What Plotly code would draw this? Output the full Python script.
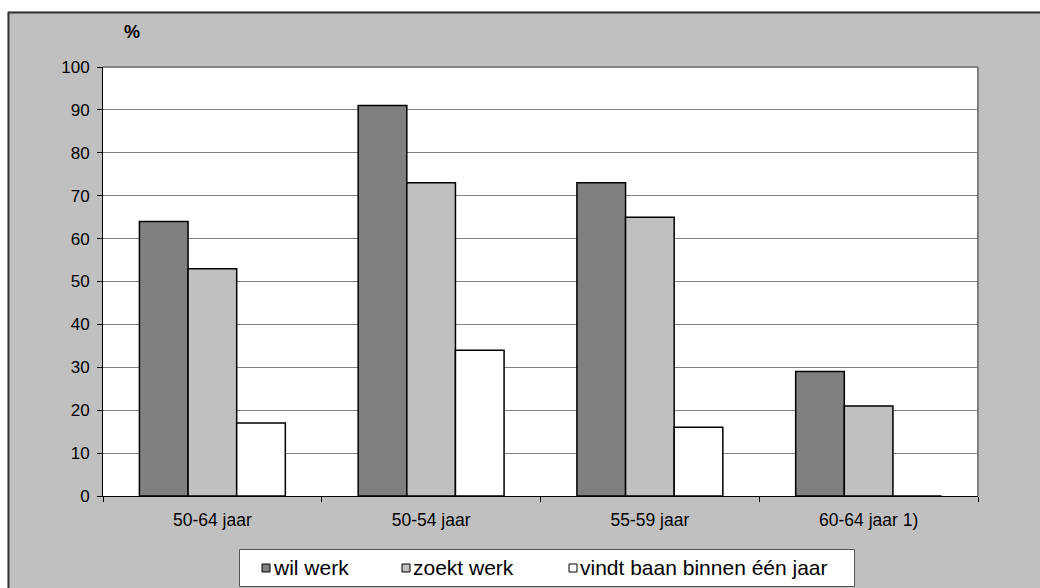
import plotly.graph_objects as go

categories = ["50-64 jaar", "50-54 jaar", "55-59 jaar", "60-64 jaar 1)"]
wil_werk = [64, 91, 73, 29]
zoekt_werk = [53, 73, 65, 21]
vindt_baan = [17, 34, 16, 0]
series_names = ["wil werk", "zoekt werk", "vindt baan binnen één jaar"]
series_colors = ["#808080", "#C0C0C0", "#FFFFFF"]
y_ticks = [0, 10, 20, 30, 40, 50, 60, 70, 80, 90, 100]

FONT = "Arial, Liberation Sans, sans-serif"

fig = go.Figure()
for name, vals, col in zip(series_names, [wil_werk, zoekt_werk, vindt_baan], series_colors):
    fig.add_trace(go.Bar(
        x=categories, y=vals, name=name,
        marker=dict(color=col, line=dict(color="#000000", width=1.5)),
        showlegend=False,
    ))

W, H = 1040, 588
L, R, T, B = 103, 62, 67, 92
pw, ph = W - L - R, H - T - B


def px(xp):
    return (xp - L) / pw


def py(yp):
    return (H - B - yp) / ph


shapes = [
    # white strips outside the outer frame
    dict(type="rect", xref="paper", yref="paper", x0=px(-5), x1=px(1050), y0=py(11.5), y1=py(-5),
         fillcolor="#FFFFFF", line=dict(width=0), layer="above"),
    dict(type="rect", xref="paper", yref="paper", x0=px(-5), x1=px(7.5), y0=py(600), y1=py(-5),
         fillcolor="#FFFFFF", line=dict(width=0), layer="above"),
    # outer frame lines (top, left)
    dict(type="line", xref="paper", yref="paper", x0=px(8), x1=px(1050), y0=py(12.5), y1=py(12.5),
         line=dict(color="#333333", width=2), layer="above"),
    dict(type="line", xref="paper", yref="paper", x0=px(8.5), x1=px(8.5), y0=py(12), y1=py(600),
         line=dict(color="#333333", width=2), layer="above"),
    # plot area border (top, right) in grey
    dict(type="line", xref="paper", yref="paper", x0=0, x1=1, y0=1, y1=1,
         line=dict(color="#808080", width=2), layer="above"),
    dict(type="line", xref="paper", yref="paper", x0=1, x1=1, y0=0, y1=1,
         line=dict(color="#808080", width=2), layer="above"),
    # legend box
    dict(type="rect", xref="paper", yref="paper", x0=px(239.5), x1=px(854.5), y0=py(586.5), y1=py(549.5),
         fillcolor="#FFFFFF", line=dict(color="#555555", width=1), layer="above"),
]

legend_sq_x = [262, 402, 569]
annotations = [
    dict(text="<b>%</b>", xref="paper", yref="paper", x=px(132), y=py(32),
         xanchor="center", yanchor="middle", showarrow=False,
         font=dict(family=FONT, size=18, color="#000000")),
]
for sx, name, col in zip(legend_sq_x, series_names, series_colors):
    shapes.append(dict(type="rect", xref="paper", yref="paper",
                       x0=px(sx), x1=px(sx + 8), y0=py(572), y1=py(564),
                       fillcolor=col, line=dict(color="#000000", width=1), layer="above"))
    annotations.append(dict(text=name, xref="paper", yref="paper", x=px(sx + 9), y=py(567.5),
                            xanchor="left", yanchor="middle", showarrow=False,
                            font=dict(family=FONT, size=21, color="#000000")))

fig.update_layout(
    width=W, height=H,
    margin=dict(l=L, r=R, t=T, b=B),
    paper_bgcolor="#C0C0C0",
    plot_bgcolor="#FFFFFF",
    barmode="group",
    bargap=0.333,
    bargroupgap=0,
    font=dict(family=FONT, size=17, color="#000000"),
    showlegend=False,
    xaxis=dict(
        showline=True, linecolor="#000000", linewidth=1,
        ticks="outside", tickson="boundaries", ticklen=5, tickcolor="#000000",
        showgrid=False, tickfont=dict(size=17.5), ticklabelstandoff=8,
    ),
    yaxis=dict(
        range=[0, 100], tickvals=y_ticks,
        showline=True, linecolor="#000000", linewidth=1,
        ticks="outside", ticklen=5, tickcolor="#000000",
        showgrid=True, gridcolor="#808080", gridwidth=1,
        zeroline=False, tickfont=dict(size=17), ticklabelstandoff=4,
    ),
    shapes=shapes,
    annotations=annotations,
)

fig.write_html(
    "out.html",
    config={"displayModeBar": False},
    post_script="document.body.style.margin='0px';document.body.style.overflow='hidden';",
)
